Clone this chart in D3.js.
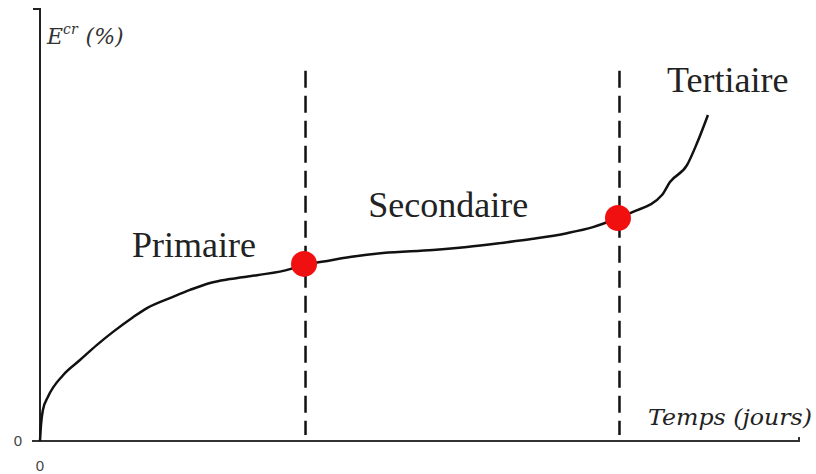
<!DOCTYPE html>
<html>
<head>
<meta charset="utf-8">
<script src="https://cdn.jsdelivr.net/npm/d3@7"></script>
<style>
  body { margin: 0; background: #fff; }
  svg { display: block; }
</style>
</head>
<body>
<svg id="svg_creep" width="816" height="474"></svg>
<script>
// Courbe de fluage : temps (unités relatives) / déformation (unités relatives)

const timeValues = [0, 0.13, 0.39, 1.05, 3.03, 5.26, 7.5, 9.61, 12.24, 14.08, 17.5, 19.74, 22.37, 25, 28.55, 32.89, 34.74,
                    35.92, 40.79, 45.13, 51.71, 56.18, 60.53, 64.87, 69.34, 72.76, 76.05,
                    78.03, 81.84, 82.89, 85.13, 86.45, 87.89];
const strainValues = [0, 3.7, 7.2, 10.2, 15.2, 18.7, 22.2, 25.2, 28.6, 30.7, 33.3, 34.9, 36.5, 37.4, 38.3, 39.7, 40.9,
                      41.1, 42.5, 43.4, 44.1, 44.8, 45.7, 46.7, 48.0, 49.4, 51.5,
                      52.9, 56.8, 59.8, 63.7, 68.8, 75.3];

// transitions primaire/secondaire et secondaire/tertiaire
const transitionTimes = [34.74, 76.05];
const transitionStrains = [40.9, 51.5];

const phaseNames = ['Primaire', 'Secondaire', 'Tertiaire'];
const originLabel = '0';

const svg = d3.select('#svg_creep');

// Scales
const xScale = d3.scaleLinear()
                 .domain([0, 100])
                 .range([40, 800]);

const yScale = d3.scaleLinear()
                 .domain([0, 100])
                 .range([441, 8]);

// Axes (plain lines with the end ticks)
svg.append('path')
   .attr('d', `M32,${yScale(0)}H${xScale(100) - 1}V${yScale(0) - 4}`)
   .attr('fill', 'none')
   .attr('stroke', '#333')
   .attr('stroke-width', 2);

svg.append('path')
   .attr('d', `M${xScale(0) - 7},${yScale(100) + 1}H${xScale(0)}V${yScale(0)}`)
   .attr('fill', 'none')
   .attr('stroke', '#222')
   .attr('stroke-width', 2);

// Axis titles
let yTitle = svg.append('text')
   .attr('x', 47)
   .attr('y', 44)
   .attr('font-family', 'DejaVu Serif')
   .attr('font-style', 'italic')
   .attr('font-size', 22)
   .attr('fill', '#333');
yTitle.append('tspan').text('E');
yTitle.append('tspan').attr('dy', -10).attr('font-size', 14).text('cr');
yTitle.append('tspan').attr('dy', 10).attr('dx', 8).text('(%)');

svg.append('text')
   .attr('x', 648)
   .attr('y', 425)
   .attr('font-family', 'DejaVu Serif')
   .attr('font-style', 'italic')
   .attr('font-size', 23)
   .attr('textLength', 164)
   .attr('lengthAdjust', 'spacingAndGlyphs')
   .attr('fill', '#222')
   .text('Temps (jours)');

// Origin labels
svg.append('text')
   .attr('x', 18).attr('y', 446)
   .attr('text-anchor', 'middle')
   .attr('font-family', 'Liberation Sans')
   .attr('font-size', 15)
   .attr('fill', '#444')
   .text(originLabel);

svg.append('text')
   .attr('x', xScale(0)).attr('y', 471)
   .attr('text-anchor', 'middle')
   .attr('font-family', 'Liberation Sans')
   .attr('font-size', 15)
   .attr('fill', '#444')
   .text(originLabel);

// Dashed transition lines
svg.selectAll('.transition')
   .data(transitionTimes)
   .join('line')
   .attr('class', 'transition')
   .attr('x1', d => xScale(d) + 1.5)
   .attr('x2', d => xScale(d) + 1.5)
   .attr('y1', yScale(85.5))
   .attr('y2', yScale(1.4))
   .attr('stroke', '#111')
   .attr('stroke-width', 2.5)
   .attr('stroke-dasharray', '17,8');

// Creep curve
const points = timeValues.map((t, i) => [t, strainValues[i]]);
const line = d3.line()
               .x(d => xScale(d[0]))
               .y(d => yScale(d[1]))
               .curve(d3.curveMonotoneX);

svg.append('path')
   .datum(points)
   .attr('d', line)
   .attr('fill', 'none')
   .attr('stroke', '#111')
   .attr('stroke-width', 2.5)
   .attr('stroke-linejoin', 'round');

// Transition dots
svg.selectAll('.dot')
   .data(transitionTimes)
   .join('circle')
   .attr('class', 'dot')
   .attr('cx', d => xScale(d))
   .attr('cy', (d, i) => yScale(transitionStrains[i]))
   .attr('r', 13)
   .attr('fill', '#f01010');

// Phase labels
const labelX = [12.1, 43.2, 82.5];
const labelY = [42.5, 51.7, 80.6];
svg.selectAll('.phase')
   .data(phaseNames)
   .join('text')
   .attr('class', 'phase')
   .attr('x', (d, i) => xScale(labelX[i]))
   .attr('y', (d, i) => yScale(labelY[i]))
   .attr('font-family', 'Liberation Serif')
   .attr('font-size', 36)
   .attr('fill', '#222')
   .text(d => d);
</script>
</body>
</html>
